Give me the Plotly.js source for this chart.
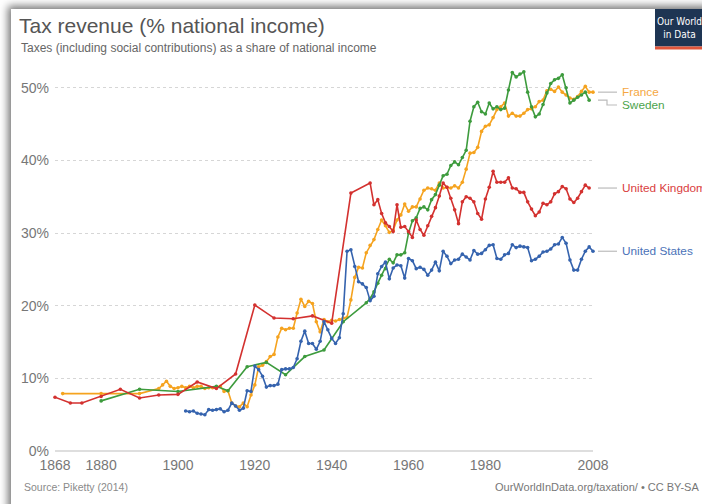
<!DOCTYPE html>
<html>
<head>
<meta charset="utf-8">
<script src="https://cdn.plot.ly/plotly-3.0.1.min.js"></script>
<style>
  html, body { margin: 0; padding: 0; background: #ffffff; overflow: hidden; }
  #card { position: absolute; left: 11px; top: 9px; width: 760px; height: 560px; background: #fff;
          box-shadow: 0 0 8px 3px rgba(0,0,0,0.55); }
  #chart { position: absolute; left: 0; top: 0; width: 702px; height: 504px; }
</style>
</head>
<body>
<div id="card"></div>
<div id="chart"></div>
<script>
// ---- Data ----
const xTickVals = [1868, 1880, 1900, 1920, 1940, 1960, 1980, 2008];
const yTickVals = [0, 10, 20, 30, 40, 50];
const yTickText = ["0%", "10%", "20%", "30%", "40%", "50%"];

const franceYears = [1870,1880,1890,1895,1896,1897,1898,1899,1900,1901,1902,1903,1904,1905,1906,1907,1908,1909,1910,1911,1912,1913,1914,1915,1916,1917,1918,1919,1920,1921,1922,1923,1924,1925,1926,1927,1928,1929,1930,1931,1932,1933,1934,1935,1936,1937,1938,1939,1940,1941,1942,1943,1944,1945,1946,1947,1948,1949,1950,1951,1952,1953,1954,1955,1956,1957,1958,1959,1960,1961,1962,1963,1964,1965,1966,1967,1968,1969,1970,1971,1972,1973,1974,1975,1976,1977,1978,1979,1980,1981,1982,1983,1984,1985,1986,1987,1988,1989,1990,1991,1992,1993,1994,1995,1996,1997,1998,1999,2000,2001,2002,2003,2004,2005,2006,2007,2008];
const franceValues = [7.9,7.9,7.9,8.6,9.1,9.6,8.9,8.6,8.7,8.9,8.7,8.9,8.7,8.9,8.9,8.6,8.7,8.7,8.8,8.9,8.2,8.3,6.6,6.2,6.1,6.6,6.1,7.7,9.1,11.6,11.8,12.3,13.0,13.3,15.7,16.9,16.7,16.9,16.9,19.0,20.9,19.9,20.6,20.3,17.8,16.4,18.1,17.8,18.0,17.9,18.1,18.3,18.4,20.8,23.9,25.3,25.2,27.3,28.3,29.1,30.5,31.8,31.0,30.1,30.4,31.8,32.5,34.0,33.0,33.6,33.6,34.7,35.9,36.2,36.1,35.9,36.9,36.2,36.3,36.2,36.5,36.2,37.0,38.8,41.0,41.1,41.8,44.0,44.7,44.9,45.9,47.0,47.4,47.9,46.1,46.5,46.1,46.1,46.5,47.0,47.1,47.4,48.1,48.3,49.6,49.8,49.5,50.1,49.4,49.0,48.6,48.4,48.8,49.5,50.2,49.4,49.4];

const swedenYears = [1880,1890,1900,1910,1913,1918,1923,1928,1933,1938,1943,1949,1950,1951,1952,1953,1954,1955,1956,1957,1958,1959,1960,1961,1962,1963,1964,1965,1966,1967,1968,1969,1970,1971,1972,1973,1974,1975,1976,1977,1978,1979,1980,1981,1982,1983,1984,1985,1986,1987,1988,1989,1990,1991,1992,1993,1994,1995,1996,1997,1998,1999,2000,2001,2002,2003,2004,2005,2006,2007];
const swedenValues = [6.9,8.5,8.2,8.9,8.3,11.6,12.2,10.5,13.0,13.9,17.8,20.4,21.0,21.9,23.1,24.2,25.1,26.4,25.9,27.0,27.0,27.3,30.0,31.7,32.1,33.4,33.6,33.2,34.6,35.3,36.6,37.9,38.1,39.3,39.8,39.4,40.4,41.4,45.4,47.4,48.0,46.7,46.4,47.9,47.1,47.4,47.0,47.2,49.7,52.1,51.5,51.9,52.2,49.4,47.4,46.0,46.4,47.7,49.3,50.6,51.1,51.3,51.8,50.0,47.9,48.3,48.7,49.0,49.4,48.3];

const ukYears = [1868,1872,1875,1880,1885,1890,1895,1900,1905,1910,1915,1920,1925,1930,1935,1940,1945,1950,1951,1952,1953,1954,1955,1956,1957,1958,1959,1960,1961,1962,1963,1964,1965,1966,1967,1968,1969,1970,1971,1972,1973,1974,1975,1976,1977,1978,1979,1980,1981,1982,1983,1984,1985,1986,1987,1988,1989,1990,1991,1992,1993,1994,1995,1996,1997,1998,1999,2000,2001,2002,2003,2004,2005,2006,2007];
const ukValues = [7.4,6.6,6.6,7.5,8.5,7.3,7.7,7.8,9.5,8.6,10.6,20.1,18.3,18.2,18.6,17.6,35.5,36.9,33.9,34.6,32.7,31.4,30.9,30.2,33.9,30.8,30.9,30.2,29.4,31.8,30.5,29.7,31.0,32.3,33.5,35.1,36.9,36.3,34.8,33.2,31.3,34.3,35.0,34.8,34.3,32.7,31.9,34.7,36.3,38.5,37.0,37.0,37.0,37.6,36.2,36.1,35.6,35.6,34.3,33.3,32.4,32.9,34.1,33.9,34.3,35.4,35.7,36.4,36.1,34.7,34.2,34.8,35.7,36.6,36.2];

const usYears = [1902,1903,1904,1905,1906,1907,1908,1909,1910,1911,1912,1913,1914,1915,1916,1917,1918,1919,1920,1921,1922,1923,1924,1925,1926,1927,1928,1929,1930,1931,1932,1933,1934,1935,1936,1937,1938,1939,1940,1941,1942,1943,1944,1945,1946,1947,1948,1949,1950,1951,1952,1953,1954,1955,1956,1957,1958,1959,1960,1961,1962,1963,1964,1965,1966,1967,1968,1969,1970,1971,1972,1973,1974,1975,1976,1977,1978,1979,1980,1981,1982,1983,1984,1985,1986,1987,1988,1989,1990,1991,1992,1993,1994,1995,1996,1997,1998,1999,2000,2001,2002,2003,2004,2005,2006,2007,2008];
const usValues = [5.5,5.4,5.5,5.2,5.1,5.0,5.7,5.6,5.7,5.8,5.4,5.6,6.6,6.2,5.6,5.9,8.3,8.2,11.7,11.2,10.3,8.8,9.0,9.0,9.2,11.2,11.3,11.3,11.5,12.7,15.1,16.5,14.8,14.8,14.0,15.1,17.8,16.7,15.5,14.8,15.6,18.9,27.5,27.7,25.4,23.3,23.0,22.5,20.7,21.3,24.4,25.4,26.0,23.7,25.2,25.6,25.5,23.8,26.5,26.2,25.1,25.3,25.0,24.2,24.9,26.0,24.8,27.5,26.8,25.8,26.3,26.4,27.1,26.7,26.3,27.6,27.1,27.2,27.7,28.3,28.4,26.5,26.4,27.0,27.2,28.4,28.0,28.2,28.1,28.0,26.2,26.4,26.8,27.4,27.5,27.8,28.4,28.5,29.4,28.6,26.3,24.9,24.9,26.4,27.5,28.1,27.5];

const seriesNames = ["France", "Sweden", "United Kingdom", "United States"];
const seriesColors = ["#F5A31F", "#3D9B3D", "#D3312F", "#3563AE"];
const labelColors = ["#F5A742", "#4CA44C", "#D9403E", "#4A72B8"];

// ---- Build traces ----
const allX = [franceYears, swedenYears, ukYears, usYears];
const allY = [franceValues, swedenValues, ukValues, usValues];
const traces = allX.map((xs, i) => ({
  type: "scatter", mode: "lines+markers", name: seriesNames[i],
  x: xs, y: allY[i],
  line: { color: seriesColors[i], width: 1.6 },
  marker: { color: seriesColors[i], size: 3.6 },
  cliponaxis: false, hoverinfo: "skip"
}));

// plot area in pixels: left 55, right 593, top 66, bottom 451
const L = 55, W = 538, B = 451, H = 385;
const px = (p) => (p - L) / W;
const py = (p) => (B - p) / H;
const font = "Liberation Sans, Arial, Helvetica, sans-serif";

const lastVal = (arr) => arr[arr.length - 1];
const yPix = (v) => B - v * (H / 53);
const vOfPix = (p) => (B - p) / (H / 53);

const annotations = [
  { text: "Taxes (including social contributions) as a share of national income", xref: "paper", yref: "paper",
    x: px(19), y: py(48), xanchor: "left", yanchor: "middle", showarrow: false,
    font: { family: font, size: 12, color: "#666" } },
  { text: "Source: Piketty (2014)", xref: "paper", yref: "paper", x: px(22), y: py(487),
    xanchor: "left", yanchor: "middle", showarrow: false, font: { family: font, size: 10.5, color: "#8a8a8a" } },
  { text: "OurWorldInData.org/taxation/ • CC BY-SA", xref: "paper", yref: "paper", x: px(701), y: py(487),
    xanchor: "right", yanchor: "middle", showarrow: false, font: { family: font, size: 11, color: "#777" } },
  { text: "Our World<br>in Data", xref: "paper", yref: "paper", x: px(679), y: py(28),
    xanchor: "center", yanchor: "middle", showarrow: false, align: "center",
    font: { family: "Liberation Sans Narrow, DejaVu Sans Condensed, Liberation Sans, Arial, sans-serif", size: 10, color: "#ffffff" } }
];
// right-hand series labels
const labelY = [lastVal(franceValues), vOfPix(105), lastVal(ukValues), lastVal(usValues)];
seriesNames.forEach((n, i) => {
  annotations.push({ text: n, xref: "paper", yref: "y", x: px(620), y: labelY[i], xanchor: "left", yanchor: "middle",
    showarrow: false, font: { family: font, size: 11.8, color: labelColors[i] } });
});

const connColor = "#bbbbbb";
const shapes = [
  // logo
  { type: "rect", xref: "paper", yref: "paper", x0: px(655), x1: px(712), y0: py(46.5), y1: py(9), fillcolor: "#1e3553", line: { width: 0 }, layer: "above" },
  { type: "rect", xref: "paper", yref: "paper", x0: px(655), x1: px(712), y0: py(49.5), y1: py(46.5), fillcolor: "#e0553a", line: { width: 0 }, layer: "above" },
  // connectors
  { type: "line", xref: "paper", yref: "y", x0: px(598), x1: px(617), y0: lastVal(franceValues), y1: lastVal(franceValues), line: { color: connColor, width: 1.2 } },
  { type: "path", xref: "paper", yref: "paper",
    path: "M " + px(598) + " " + py(yPix(lastVal(swedenValues))) + " L " + px(607) + " " + py(yPix(lastVal(swedenValues))) +
          " L " + px(607) + " " + py(105) + " L " + px(617) + " " + py(105), line: { color: connColor, width: 1.2 } },
  { type: "line", xref: "paper", yref: "y", x0: px(598), x1: px(617), y0: lastVal(ukValues), y1: lastVal(ukValues), line: { color: connColor, width: 1.2 } },
  { type: "line", xref: "paper", yref: "y", x0: px(598), x1: px(617), y0: lastVal(usValues), y1: lastVal(usValues), line: { color: connColor, width: 1.2 } }
];

const layout = {
  width: 702, height: 504,
  margin: { l: 55, r: 109, t: 66, b: 53, pad: 0 },
  paper_bgcolor: "rgba(0,0,0,0)", plot_bgcolor: "rgba(0,0,0,0)",
  showlegend: false,
  title: { text: "Tax revenue (% national income)", xref: "container", yref: "container",
           x: 19 / 702, xanchor: "left", y: 1 - 26 / 504, yanchor: "middle",
           font: { family: font, size: 21, color: "#555" } },
  xaxis: { range: [1868, 2008], tickvals: xTickVals, ticktext: xTickVals.map(String),
           showgrid: false, zeroline: false, showline: false, ticks: "", ticklabelstandoff: 4,
           tickfont: { family: font, size: 14, color: "#777" }, fixedrange: true },
  yaxis: { range: [0, 53], tickvals: yTickVals, ticktext: yTickText,
           showgrid: true, gridcolor: "#d6d6d6", griddash: "dot", gridwidth: 1,
           zeroline: true, zerolinecolor: "#dedede", zerolinewidth: 2,
           showline: false, ticks: "", ticklabelstandoff: 5,
           tickfont: { family: font, size: 14, color: "#777" }, fixedrange: true },
  annotations: annotations,
  shapes: shapes
};

Plotly.newPlot("chart", traces, layout, { staticPlot: true, displayModeBar: false });
</script>
</body>
</html>
